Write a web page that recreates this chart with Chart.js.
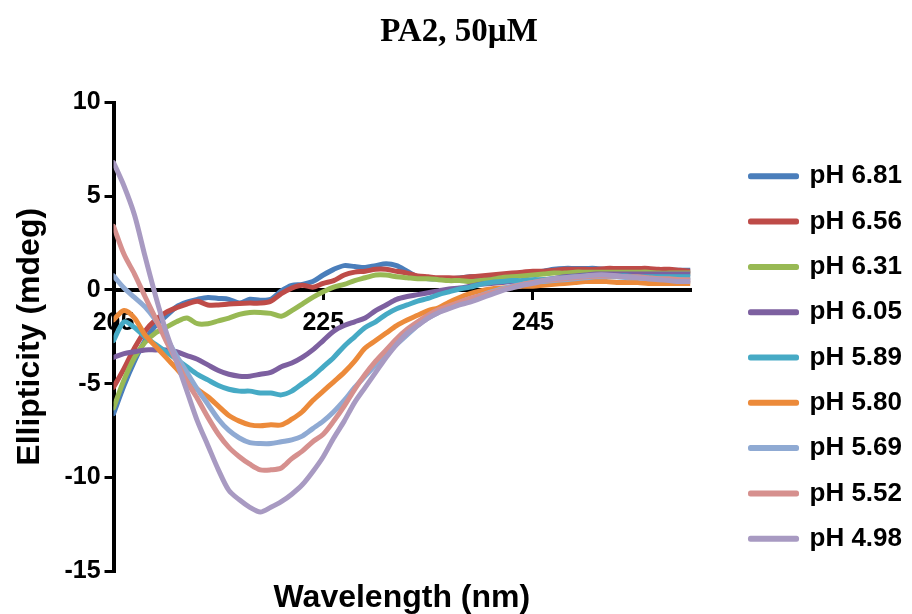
<!DOCTYPE html>
<html>
<head>
<meta charset="utf-8">
<title>PA2, 50µM</title>
<script src="https://cdn.jsdelivr.net/npm/chart.js@4.4.1/dist/chart.umd.min.js"></script>
<style>
  body { margin: 0; background: #fff; }
  #wrap { width: 912px; height: 614px; }
</style>
</head>
<body>
<div id="wrap"><canvas id="cdChart" width="912" height="614"></canvas></div>
<script>
const chartTitle = 'PA2, 50µM';
const xTitle = 'Wavelength (nm)';
const yTitle = 'Ellipticity (mdeg)';

// wavelength, nm
const wavelengths = [
  205, 206, 207, 208, 209, 210, 211, 212, 213, 214, 215, 216, 217, 218,
  219, 220, 221, 222, 223, 224, 225, 226, 227, 228, 229, 230, 231, 232,
  233, 234, 235, 236, 237, 238, 239, 240, 241, 242, 243, 244, 245, 246,
  247, 248, 249, 250, 251, 252, 253, 254, 255, 256, 257, 258, 259, 260
];
const xTicks = [205, 225, 245];
const yMin = -15, yMax = 10, yStep = 5;

const seriesLabels = ['pH 6.81', 'pH 6.56', 'pH 6.31', 'pH 6.05', 'pH 5.89', 'pH 5.80', 'pH 5.69', 'pH 5.52', 'pH 4.98'];
const seriesColors = ['#4A7EBB', '#BE4B48', '#98B954', '#7D60A0', '#46AAC5', '#EC8A3A', '#8FAAD3', '#D6908E', '#A89AC2'];

// ellipticity, mdeg
const ph681 = [-6.6, -5.1, -3.8, -2.7, -1.9, -1.4, -0.9, -0.65, -0.5, -0.4, -0.45,
  -0.5, -0.7, -0.5, -0.55, -0.5, -0.05, 0.25, 0.3, 0.45, 0.8,
  1.1, 1.3, 1.25, 1.2, 1.3, 1.4, 1.3, 1.0, 0.7, 0.6,
  0.58, 0.6, 0.64, 0.7, 0.7, 0.65, 0.7, 0.75, 0.85, 0.95,
  1.0, 1.1, 1.15, 1.15, 1.15, 1.15, 1.1, 1.1, 1.1, 1.1, 1.05, 1.05, 1.05, 1.05, 1.05];
const ph656 = [-5.2, -4.2, -3.1, -2.2, -1.6, -1.2, -0.95, -0.75, -0.6, -0.8, -0.8,
  -0.75, -0.72, -0.7, -0.7, -0.6, -0.2, 0.1, 0.25, 0.15, 0.35,
  0.5, 0.8, 0.95, 1.0, 1.1, 1.1, 1.0, 0.9, 0.75, 0.7,
  0.65, 0.65, 0.64, 0.7, 0.75, 0.8, 0.85, 0.9, 0.95, 1.0,
  1.0, 1.05, 1.1, 1.1, 1.1, 1.1, 1.15, 1.15, 1.15, 1.15, 1.15, 1.1, 1.1, 1.05, 1.0];
const ph631 = [-6.3, -4.8, -3.6, -2.8, -2.3, -2.0, -1.7, -1.5, -1.8, -1.8, -1.65,
  -1.5, -1.3, -1.2, -1.2, -1.25, -1.4, -1.1, -0.75, -0.4, -0.1,
  0.15, 0.3, 0.5, 0.65, 0.8, 0.8, 0.7, 0.65, 0.6, 0.6,
  0.55, 0.5, 0.5, 0.45, 0.5, 0.55, 0.65, 0.7, 0.75, 0.8,
  0.85, 0.9, 0.9, 0.95, 0.95, 0.95, 0.95, 0.95, 0.95, 0.95, 0.95, 0.9, 0.9, 0.9, 0.9];
const ph605 = [-3.6, -3.4, -3.3, -3.2, -3.2, -3.2, -3.3, -3.5, -3.7, -4.0, -4.3,
  -4.5, -4.6, -4.6, -4.5, -4.4, -4.1, -3.9, -3.6, -3.2, -2.7,
  -2.2, -1.9, -1.7, -1.5, -1.1, -0.8, -0.5, -0.35, -0.25, -0.15,
  -0.05, 0.05, 0.1, 0.2, 0.3, 0.35, 0.4, 0.45, 0.45, 0.5,
  0.55, 0.6, 0.7, 0.75, 0.8, 0.85, 0.85, 0.85, 0.85, 0.85, 0.85, 0.85, 0.85, 0.85, 0.85];
const ph589 = [-2.7, -1.7, -2.0, -2.5, -2.9, -3.3, -3.7, -4.1, -4.5, -4.8, -5.1,
  -5.3, -5.4, -5.4, -5.5, -5.5, -5.6, -5.4, -5.0, -4.6, -4.1,
  -3.6, -3.0, -2.5, -2.0, -1.7, -1.3, -1.0, -0.8, -0.6, -0.45,
  -0.25, -0.1, 0.05, 0.15, 0.3, 0.4, 0.45, 0.5, 0.5, 0.55,
  0.55, 0.6, 0.65, 0.7, 0.75, 0.75, 0.75, 0.75, 0.75, 0.7, 0.7, 0.7, 0.7, 0.7, 0.7];
const ph580 = [-1.6, -1.1, -1.5, -2.4, -3.0, -3.6, -4.2, -4.8, -5.3, -5.7, -6.2,
  -6.7, -7.0, -7.2, -7.25, -7.2, -7.2, -6.9, -6.5, -5.9, -5.4,
  -4.9, -4.4, -3.8, -3.1, -2.7, -2.3, -1.9, -1.6, -1.35, -1.1,
  -0.95, -0.65, -0.4, -0.2, -0.05, 0.05, 0.1, 0.15, 0.2, 0.2,
  0.25, 0.3, 0.35, 0.4, 0.45, 0.45, 0.45, 0.4, 0.4, 0.4, 0.35, 0.35, 0.35, 0.35, 0.35];
const ph569 = [0.75, 0.1, -0.4, -0.9, -1.6, -2.5, -3.5, -4.4, -5.3, -6.1, -6.9,
  -7.5, -7.9, -8.15, -8.2, -8.2, -8.1, -8.0, -7.8, -7.4, -7.0,
  -6.5, -5.9, -5.2, -4.6, -4.0, -3.4, -2.9, -2.4, -1.9, -1.5,
  -1.2, -0.9, -0.7, -0.5, -0.3, -0.1, 0.05, 0.2, 0.3, 0.4,
  0.45, 0.5, 0.55, 0.6, 0.65, 0.7, 0.7, 0.7, 0.65, 0.65, 0.6, 0.6, 0.55, 0.55, 0.5];
const ph552 = [3.4, 1.9, 0.85, -0.35, -1.5, -2.7, -3.8, -4.9, -5.8, -6.8, -7.7,
  -8.4, -8.9, -9.3, -9.6, -9.6, -9.5, -9.0, -8.6, -8.1, -7.7,
  -7.0, -6.2, -5.3, -4.5, -3.8, -3.2, -2.6, -2.1, -1.7, -1.35,
  -1.05, -0.85, -0.65, -0.45, -0.3, -0.15, 0.0, 0.15, 0.3, 0.4,
  0.5, 0.55, 0.6, 0.65, 0.7, 0.75, 0.75, 0.75, 0.7, 0.7, 0.65, 0.6, 0.6, 0.55, 0.55];
const ph498 = [6.8, 5.55, 4.0, 1.8, -0.3, -2.2, -3.8, -5.4, -7.0, -8.3, -9.6,
  -10.7, -11.2, -11.6, -11.85, -11.6, -11.3, -10.9, -10.4, -9.7, -8.9,
  -7.9, -7.0, -6.0, -5.2, -4.4, -3.6, -2.9, -2.3, -1.9, -1.5,
  -1.2, -1.0, -0.8, -0.65, -0.45, -0.25, -0.05, 0.1, 0.25, 0.35,
  0.5, 0.6, 0.65, 0.7, 0.75, 0.8, 0.8, 0.75, 0.7, 0.65, 0.6, 0.55, 0.5, 0.45, 0.45];

const seriesValues = [ph681, ph656, ph631, ph605, ph589, ph580, ph569, ph552, ph498];

const sansFont = '"Liberation Sans", Arial, sans-serif';
Chart.defaults.color = '#000';
Chart.defaults.font.family = sansFont;

// x axis title sits at the bottom, the x axis itself crosses at y = 0
const xTitlePlugin = {
  id: 'xTitle',
  afterDraw(chart) {
    const { ctx, chartArea } = chart;
    ctx.save();
    ctx.font = 'bold 32px ' + sansFont;
    ctx.fillStyle = '#000';
    ctx.textAlign = 'center';
    ctx.textBaseline = 'middle';
    ctx.fillText(xTitle, (chartArea.left + chartArea.right) / 2, chartArea.bottom + 27);
    ctx.restore();
  }
};

const datasets = seriesLabels.map((label, i) => ({
  label: label,
  data: seriesValues[i],
  borderColor: seriesColors[i],
  backgroundColor: seriesColors[i],
  borderWidth: 5,
  borderCapStyle: 'round',
  borderJoinStyle: 'round',
  pointRadius: 0,
  tension: 0.3,
  order: seriesLabels.length - i   // later series drawn on top, like the original
}));

new Chart(document.getElementById('cdChart'), {
  type: 'line',
  data: { labels: wavelengths, datasets: datasets },
  plugins: [xTitlePlugin],
  options: {
    responsive: false,
    animation: false,
    layout: { padding: { left: 6, right: 0, top: 0, bottom: 43 } },
    plugins: {
      title: {
        display: true,
        text: chartTitle,
        color: '#000',
        font: { family: '"Liberation Serif", "Times New Roman", serif', size: 33, weight: 'bold' },
        padding: { top: 13, bottom: 50 }
      },
      legend: {
        position: 'right',
        align: 'end',
        maxWidth: 260,
        labels: {
          boxWidth: 46,
          boxHeight: 1,
          padding: 19.3,
          color: '#000',
          font: { size: 26, weight: 'bold' },
          sort: (a, b) => a.datasetIndex - b.datasetIndex
        }
      },
      tooltip: { enabled: false }
    },
    scales: {
      x: {
        type: 'linear',
        min: wavelengths[0],
        max: wavelengths[wavelengths.length - 1],
        position: { y: 0 },
        afterBuildTicks: s => { s.ticks = xTicks.map(v => ({ value: v })); },
        border: { display: true, color: '#000', width: 4 },
        grid: { drawOnChartArea: false, drawTicks: true, tickLength: 8, color: '#000', lineWidth: 3 },
        ticks: { font: { size: 25, weight: 'bold' }, padding: 10, maxRotation: 0 }
      },
      y: {
        min: yMin,
        max: yMax,
        ticks: { stepSize: yStep, font: { size: 25, weight: 'bold' }, padding: 4 },
        border: { display: true, color: '#000', width: 4 },
        grid: { drawOnChartArea: false, drawTicks: true, tickLength: 9, color: '#000', lineWidth: 3 },
        title: {
          display: true,
          text: yTitle,
          font: { size: 32, weight: 'bold' },
          padding: { top: 5, bottom: 11 }
        }
      },
      gap: {
        axis: 'y',
        position: 'right',
        grid: { display: false },
        border: { display: false },
        ticks: { display: false },
        afterFit: s => { s.width = 41; }
      }
    }
  }
});
</script>
</body>
</html>
